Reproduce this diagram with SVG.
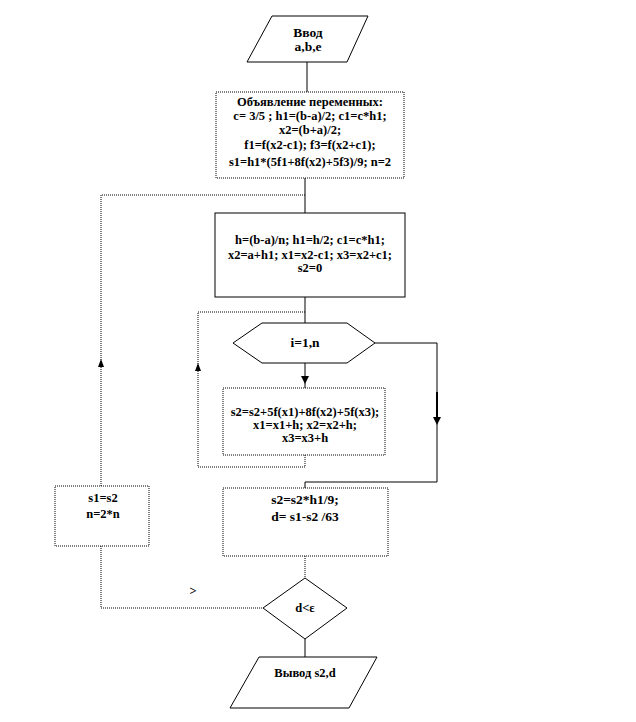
<svg xmlns="http://www.w3.org/2000/svg" width="636" height="722" viewBox="0 0 636 722">
<style>
.shape{fill:#fff;stroke:#000;stroke-width:1}
.dot{stroke-dasharray:1 1}
.ln{fill:none;stroke:#000;stroke-width:1}
.t{font-family:"Liberation Serif","Times New Roman",serif;font-weight:bold;font-size:12.5px;text-anchor:middle;fill:#000}
.t13{font-size:13.5px}
.ah{fill:#000}
</style>
<rect width="636" height="722" fill="#fff"/>
<g id="connectors">
<path class="ln" d="M307 62V92"/>
<path class="ln" d="M305 178V213"/>
<path class="ln dot" d="M101 486V195H305"/>
<polygon class="ah" points="101,359 98,367 104,367"/>
<path class="ln" d="M305 297V323"/>
<path class="ln dot" d="M305 455V467H198V312H305"/>
<polygon class="ah" points="198,363 195,371 201,371"/>
<path class="ln" d="M305 363V388"/>
<polygon class="ah" points="305,384 301,376 309,376"/>
<path class="ln" d="M375 343H437V482H305V488"/>
<path class="ln" d="M437 392V420" style="stroke-width:2"/>
<polygon class="ah" points="437,425 433,417 441,417"/>
<path class="ln dot" d="M305 556V578"/>
<path class="ln dot" d="M101 546V608H263"/>
<path class="ln" d="M305 639V657"/>
<text class="t" x="193" y="595">&gt;</text>
</g>
<g id="input">
<polygon class="shape" points="272,16 368,16 347,62 247,62"/>
<text class="t t13" x="308" y="37">Ввод</text>
<text class="t t13" x="308" y="51">a,b,e</text>
</g>
<g id="init">
<rect class="shape dot" x="216" y="92" width="188" height="86"/>
<text class="t" x="310" y="106">Объявление переменных:</text>
<text class="t" x="310" y="120">c= 3/5 ; h1=(b-a)/2; c1=c*h1;</text>
<text class="t" x="310" y="134">x2=(b+a)/2;</text>
<text class="t" x="310" y="149">f1=f(x2-c1); f3=f(x2+c1);</text>
<text class="t" x="310" y="166">s1=h1*(5f1+8f(x2)+5f3)/9; n=2</text>
</g>
<g id="step">
<rect class="shape" x="215" y="213" width="190" height="84"/>
<text class="t" x="310" y="244">h=(b-a)/n; h1=h/2; c1=c*h1;</text>
<text class="t" x="310" y="259">x2=a+h1; x1=x2-c1;  x3=x2+c1;</text>
<text class="t" x="310" y="272">s2=0</text>
</g>
<g id="loop">
<polygon class="shape" points="262,323 347,323 375,343 347,363 262,363 233,343"/>
<text class="t t13" x="305" y="347">i=1,n</text>
</g>
<g id="body">
<rect class="shape dot" x="223" y="388" width="162" height="67"/>
<text class="t" x="305" y="416">s2=s2+5f(x1)+8f(x2)+5f(x3);</text>
<text class="t" x="305" y="429">x1=x1+h; x2=x2+h;</text>
<text class="t" x="305" y="442">x3=x3+h</text>
</g>
<g id="result">
<rect class="shape dot" x="223" y="488" width="165" height="68"/>
<text class="t t13" x="305" y="504">s2=s2*h1/9;</text>
<text class="t t13" x="305" y="521">d= s1-s2 /63</text>
</g>
<g id="double">
<rect class="shape dot" x="55" y="486" width="94" height="60"/>
<text class="t" x="103" y="502">s1=s2</text>
<text class="t" x="103" y="518">n=2*n</text>
</g>
<g id="check">
<polygon class="shape" points="305,578 347,608 305,639 263,608"/>
<text class="t" x="305" y="612">d&lt;ε</text>
</g>
<g id="output">
<polygon class="shape" points="259,657 377,657 349,708 230,708"/>
<text class="t" x="305" y="677">Вывод s2,d</text>
</g>
</svg>
